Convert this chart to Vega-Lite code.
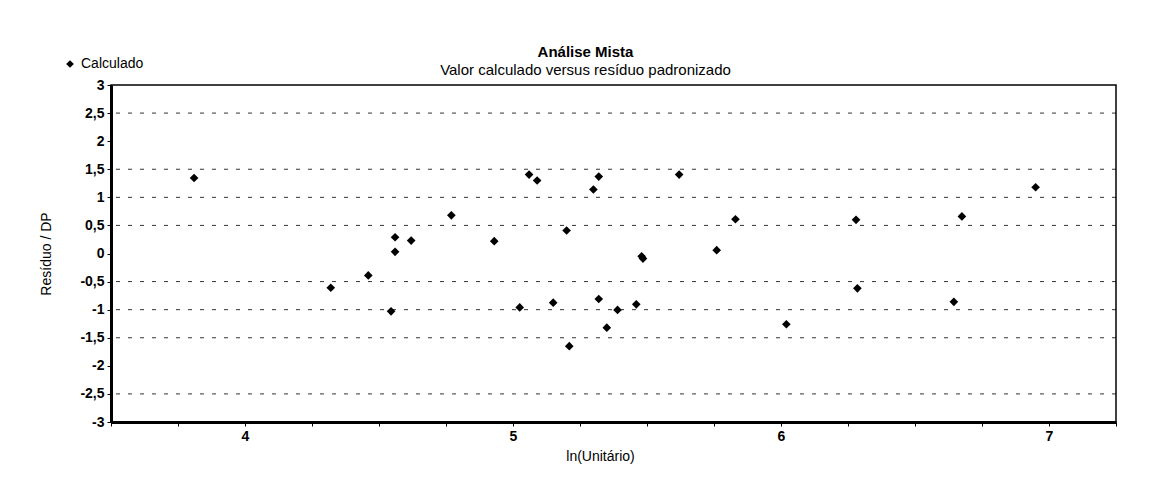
{
  "$schema": "https://vega.github.io/schema/vega-lite/v6.json",
  "autosize": {"type": "none"},
  "width": 1005,
  "height": 337,
  "padding": {"left": 111, "top": 85, "right": 35, "bottom": 66},
  "background": "white",
  "config": {
    "locale": {"number": {"decimal": ",", "thousands": ".", "grouping": [3], "currency": ["R$ ", ""], "minus": "-"}},
    "font": "Liberation Sans",
    "view": {"stroke": "black", "strokeWidth": 1.5},
    "axis": {"grid": false, "domainColor": "black", "tickColor": "black", "labelColor": "black", "titleColor": "black", "titleFont": "Liberation Sans", "labelFont": "Liberation Sans"}
  },
  "title": {
    "text": "Análise Mista",
    "subtitle": "Valor calculado versus resíduo padronizado",
    "fontSize": 15,
    "fontWeight": "bold",
    "subtitleFontSize": 15,
    "subtitleColor": "black",
    "color": "black",
    "subtitlePadding": 3,
    "anchor": "middle",
    "dx": -28,
    "offset": -21
  },
  "datasets": {
    "pontos": [
      {"lnUnitario": 3.81, "residuo": 1.345, "serie": "Calculado"},
      {"lnUnitario": 4.32, "residuo": -0.61, "serie": "Calculado"},
      {"lnUnitario": 4.46, "residuo": -0.39, "serie": "Calculado"},
      {"lnUnitario": 4.545, "residuo": -1.03, "serie": "Calculado"},
      {"lnUnitario": 4.56, "residuo": 0.29, "serie": "Calculado"},
      {"lnUnitario": 4.56, "residuo": 0.03, "serie": "Calculado"},
      {"lnUnitario": 4.62, "residuo": 0.23, "serie": "Calculado"},
      {"lnUnitario": 4.77, "residuo": 0.68, "serie": "Calculado"},
      {"lnUnitario": 4.93, "residuo": 0.22, "serie": "Calculado"},
      {"lnUnitario": 5.025, "residuo": -0.96, "serie": "Calculado"},
      {"lnUnitario": 5.06, "residuo": 1.405, "serie": "Calculado"},
      {"lnUnitario": 5.09, "residuo": 1.3, "serie": "Calculado"},
      {"lnUnitario": 5.15, "residuo": -0.875, "serie": "Calculado"},
      {"lnUnitario": 5.2, "residuo": 0.41, "serie": "Calculado"},
      {"lnUnitario": 5.21, "residuo": -1.65, "serie": "Calculado"},
      {"lnUnitario": 5.3, "residuo": 1.14, "serie": "Calculado"},
      {"lnUnitario": 5.32, "residuo": 1.37, "serie": "Calculado"},
      {"lnUnitario": 5.32, "residuo": -0.81, "serie": "Calculado"},
      {"lnUnitario": 5.35, "residuo": -1.32, "serie": "Calculado"},
      {"lnUnitario": 5.39, "residuo": -1.005, "serie": "Calculado"},
      {"lnUnitario": 5.46, "residuo": -0.905, "serie": "Calculado"},
      {"lnUnitario": 5.48, "residuo": -0.05, "serie": "Calculado"},
      {"lnUnitario": 5.485, "residuo": -0.09, "serie": "Calculado"},
      {"lnUnitario": 5.62, "residuo": 1.405, "serie": "Calculado"},
      {"lnUnitario": 5.76, "residuo": 0.06, "serie": "Calculado"},
      {"lnUnitario": 5.83, "residuo": 0.61, "serie": "Calculado"},
      {"lnUnitario": 6.02, "residuo": -1.26, "serie": "Calculado"},
      {"lnUnitario": 6.28, "residuo": 0.6, "serie": "Calculado"},
      {"lnUnitario": 6.285, "residuo": -0.62, "serie": "Calculado"},
      {"lnUnitario": 6.645, "residuo": -0.86, "serie": "Calculado"},
      {"lnUnitario": 6.675, "residuo": 0.66, "serie": "Calculado"},
      {"lnUnitario": 6.95, "residuo": 1.18, "serie": "Calculado"}
    ],
    "grade": [
      {"residuo": 2.5}, {"residuo": 1.5}, {"residuo": 1}, {"residuo": 0.5},
      {"residuo": -0.5}, {"residuo": -1}, {"residuo": -1.5}, {"residuo": -2.5}
    ]
  },
  "encoding": {
    "y": {
      "field": "residuo", "type": "quantitative",
      "scale": {"domain": [-3, 3], "nice": false},
      "axis": {
        "title": "Resíduo / DP",
        "values": [-3, -2.5, -2, -1.5, -1, -0.5, 0, 0.5, 1, 1.5, 2, 2.5, 3],
        "labelOverlap": false,
        "format": ".1~f",
        "domainWidth": 3,
        "tickSize": 4,
        "labelFontSize": 14,
        "labelFontWeight": "bold",
        "labelPadding": 3,
        "titleFontSize": 14,
        "titleFontWeight": "normal",
        "titlePadding": 26
      }
    }
  },
  "layer": [
    {
      "data": {"name": "grade"},
      "mark": {"type": "rule", "color": "black", "strokeWidth": 1, "strokeDash": [4, 8], "opacity": 0.8},
      "encoding": {}
    },
    {
      "data": {"name": "pontos"},
      "mark": {"type": "point", "shape": "diamond", "filled": true, "size": 75, "opacity": 1},
      "encoding": {
        "x": {
          "field": "lnUnitario", "type": "quantitative",
          "scale": {"domain": [3.5, 7.25], "nice": false, "zero": false},
          "axis": {
            "title": "ln(Unitário)",
            "values": [3.5, 3.75, 4, 4.25, 4.5, 4.75, 5, 5.25, 5.5, 5.75, 6, 6.25, 6.5, 6.75, 7, 7.25],
            "labelExpr": "datum.value % 1 === 0 ? datum.label : ''",
            "labelOverlap": false,
            "format": "~g",
            "domainWidth": 3,
            "tickSize": 4,
            "labelFontSize": 14,
            "labelFontWeight": "bold",
            "labelPadding": 3,
            "titleFontSize": 14,
            "titleFontWeight": "normal",
            "titlePadding": 6,
            "titleX": 489
          }
        },
        "color": {
          "field": "serie", "type": "nominal",
          "scale": {"range": ["black"]},
          "legend": {
            "title": null,
            "orient": "none",
            "legendX": -48,
            "legendY": -28,
            "padding": 0,
            "symbolType": "diamond",
            "symbolSize": 60,
            "labelFontSize": 14,
            "labelColor": "black",
            "labelFont": "Liberation Sans"
          }
        }
      }
    }
  ]
}
